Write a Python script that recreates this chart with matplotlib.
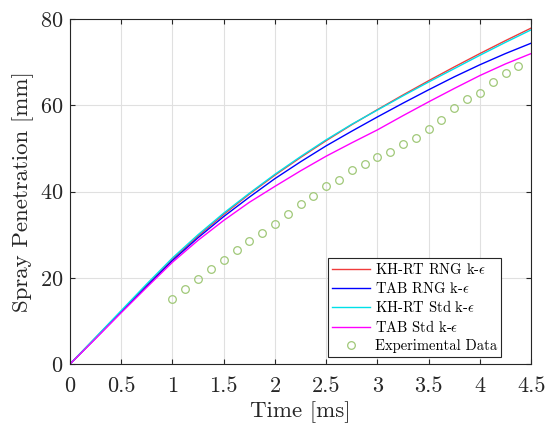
import matplotlib
matplotlib.use("Agg")
import matplotlib.pyplot as plt
import numpy as np

plt.rcParams['font.family'] = 'serif'
plt.rcParams['font.serif'] = ['cmr10', 'DejaVu Serif']
plt.rcParams['mathtext.fontset'] = 'cm'
plt.rcParams['axes.formatter.use_mathtext'] = True

time_sim = [0, 0.25, 0.5, 0.75, 1.0, 1.25, 1.5, 1.75, 2.0, 2.25, 2.5, 2.75,
            3.0, 3.25, 3.5, 3.75, 4.0, 4.25, 4.5]
khrt_rng = [0, 6.1, 12.2, 18.3, 24.3, 29.7, 34.7, 39.4, 43.8, 47.9, 51.8, 55.5,
            59.0, 62.4, 65.7, 68.9, 72.0, 75.0, 77.9]
tab_rng = [0, 6.0, 12.1, 18.1, 24.0, 29.3, 34.2, 38.7, 43.0, 46.9, 50.6, 54.0,
           57.3, 60.5, 63.6, 66.6, 69.4, 72.0, 74.4]
khrt_std = [0, 6.2, 12.4, 18.6, 24.6, 30.0, 35.0, 39.6, 44.0, 48.1, 52.0, 55.6,
            58.9, 62.2, 65.4, 68.5, 71.6, 74.6, 77.5]
tab_std = [0, 5.9, 11.9, 17.8, 23.6, 28.7, 33.3, 37.5, 41.2, 44.8, 48.2, 51.3,
           54.3, 57.6, 60.8, 63.9, 66.9, 69.6, 72.0]

time_exp = [1.0, 1.125, 1.25, 1.375, 1.5, 1.625, 1.75, 1.875, 2.0, 2.125, 2.25,
            2.375, 2.5, 2.625, 2.75, 2.875, 3.0, 3.125, 3.25, 3.375, 3.5, 3.625,
            3.75, 3.875, 4.0, 4.125, 4.25, 4.375]
pen_exp = [15.1, 17.4, 19.7, 22.0, 24.1, 26.4, 28.5, 30.4, 32.5, 34.8, 37.1,
           39.0, 41.3, 42.7, 45.0, 46.4, 48.0, 49.2, 51.0, 52.4, 54.5, 56.6,
           59.4, 61.4, 62.8, 65.4, 67.5, 69.1]

labels = [r'KH-RT RNG k-$\epsilon$', r'TAB RNG k-$\epsilon$',
          r'KH-RT Std k-$\epsilon$', r'TAB Std k-$\epsilon$', 'Experimental Data']

fig = plt.figure(figsize=(5.47, 4.28), dpi=100)
ax = fig.add_axes([0.128, 0.1495, 0.843, 0.806])

ax.plot(time_sim, khrt_rng, color='#f03c3c', lw=1.0, label=labels[0])
ax.plot(time_sim, tab_rng, color='#0000ff', lw=1.0, label=labels[1])
ax.plot(time_sim, khrt_std, color='#00e0e8', lw=1.0, label=labels[2])
ax.plot(time_sim, tab_std, color='#ff00ff', lw=1.0, label=labels[3])
ax.plot(time_exp, pen_exp, linestyle='none', marker='o', ms=5.5, mfc='none',
        mec='#a0c878', mew=0.9, label=labels[4])

ax.set_xlim(0, 4.5)
ax.set_ylim(0, 80)
ax.set_xticks([0, 0.5, 1, 1.5, 2, 2.5, 3, 3.5, 4, 4.5])
ax.set_xticklabels(['0', '0.5', '1', '1.5', '2', '2.5', '3', '3.5', '4', '4.5'])
ax.set_yticks([0, 20, 40, 60, 80])
ax.grid(True, color='#e0e0e0', lw=0.8)
ax.set_axisbelow(True)
for s in ax.spines.values():
    s.set_color('#262626')
    s.set_linewidth(0.8)
ax.tick_params(direction='in', top=True, right=True, length=3.6, width=0.8,
               labelsize=16, colors='#262626')
ax.tick_params(axis='x', pad=9)
ax.tick_params(axis='y', pad=5)
ax.set_xlabel('Time [ms]', fontsize=16.5, color='#262626', labelpad=4)
ax.set_ylabel('Spray Penetration [mm]', fontsize=16.5, color='#262626', labelpad=4)

leg = ax.legend(loc='lower right', bbox_to_anchor=(0.935, 0.02), fontsize=10.5,
                fancybox=False, framealpha=1, edgecolor='#262626',
                handlelength=2.6, handletextpad=0.3, borderaxespad=0,
                borderpad=0.3, labelspacing=0.25)
leg.get_frame().set_linewidth(0.8)

fig.savefig('out.png', dpi=100)
